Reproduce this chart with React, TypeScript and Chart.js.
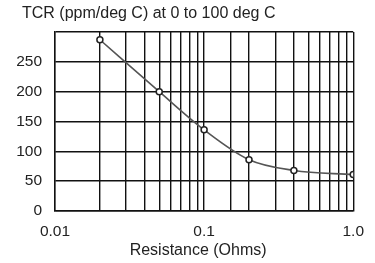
import React, { useEffect, useRef } from "react";
import { Chart, registerables } from "chart.js";

Chart.register(...registerables);

const titleText = "TCR (ppm/deg C) at 0 to 100 deg C";
const xAxisTitle = "Resistance (Ohms)";
const resistance = [0.02, 0.05, 0.1, 0.2, 0.4, 1.0];
const tcr = [287, 200, 136, 86, 68, 61];
const yTickValues = [0, 50, 100, 150, 200, 250];
const xMajorLabels: Record<string, string> = { "-2": "0.01", "-1": "0.1", "0": "1.0" };

const FONT = "'Liberation Sans', Arial, Helvetica, sans-serif";
const TEXT_COLOR = "#222";

const textPlugin = {
  id: "titles",
  afterDraw(chart: any) {
    const { ctx, chartArea } = chart;
    ctx.save();
    ctx.fillStyle = TEXT_COLOR;
    ctx.font = `16px ${FONT}`;
    ctx.textBaseline = "middle";
    ctx.textAlign = "left";
    ctx.fillText(titleText, 22, 14);
    ctx.textAlign = "center";
    ctx.fillText(xAxisTitle, (chartArea.left + chartArea.right) / 2 - 6, chartArea.bottom + 40);
    ctx.restore();
  },
};

export default function App() {
  const ref = useRef<HTMLCanvasElement | null>(null);

  useEffect(() => {
    if (!ref.current) return;
    const chart = new Chart(ref.current, {
      type: "line",
      data: {
        datasets: [
          {
            data: resistance.map((x, i) => ({ x, y: tcr[i] })),
            borderColor: "#555",
            borderWidth: 1.6,
            cubicInterpolationMode: "monotone",
            pointRadius: 3,
            pointBorderWidth: 1.5,
            pointBorderColor: "#222",
            pointBackgroundColor: "#fff",
            fill: false,
          },
        ],
      },
      plugins: [textPlugin],
      options: {
        responsive: false,
        animation: false,
        layout: { padding: { left: 0, right: 17, top: 32, bottom: 0 } },
        plugins: {
          legend: { display: false },
          tooltip: { enabled: false },
          title: { display: false },
        },
        scales: {
          x: {
            type: "logarithmic",
            min: 0.01,
            max: 1,
            afterFit: (s: any) => {
              s.height = 52;
            },
            border: { display: true, color: "#111", width: 1.4 },
            grid: { color: "#111", lineWidth: 1.4, drawTicks: false },
            ticks: {
              autoSkip: false,
              maxRotation: 0,
              padding: 11,
              color: TEXT_COLOR,
              font: { family: FONT, size: 15.5 },
              callback: (v: any) => {
                const l = Math.log10(Number(v));
                const r = Math.round(l);
                if (Math.abs(l - r) < 1e-6) return xMajorLabels[String(r)] ?? "";
                return "";
              },
            },
          },
          y: {
            min: 0,
            max: 300,
            afterFit: (s: any) => {
              s.width = 55;
            },
            afterBuildTicks: (s: any) => {
              s.ticks = [...yTickValues, 300].map((v) => ({ value: v }));
            },
            border: { display: true, color: "#111", width: 1.4 },
            grid: { color: "#111", lineWidth: 1.4, drawTicks: false },
            ticks: {
              padding: 13,
              color: TEXT_COLOR,
              font: { family: FONT, size: 15.5 },
              callback: (v: any) => (yTickValues.includes(Number(v)) ? String(v) : ""),
            },
          },
        },
      },
    });
    return () => chart.destroy();
  }, []);

  return (
    <div style={{ position: "fixed", left: 0, top: 0, width: 375, height: 263, background: "#fff" }}>
      <canvas ref={ref} width={375} height={263} style={{ display: "block" }} />
    </div>
  );
}
